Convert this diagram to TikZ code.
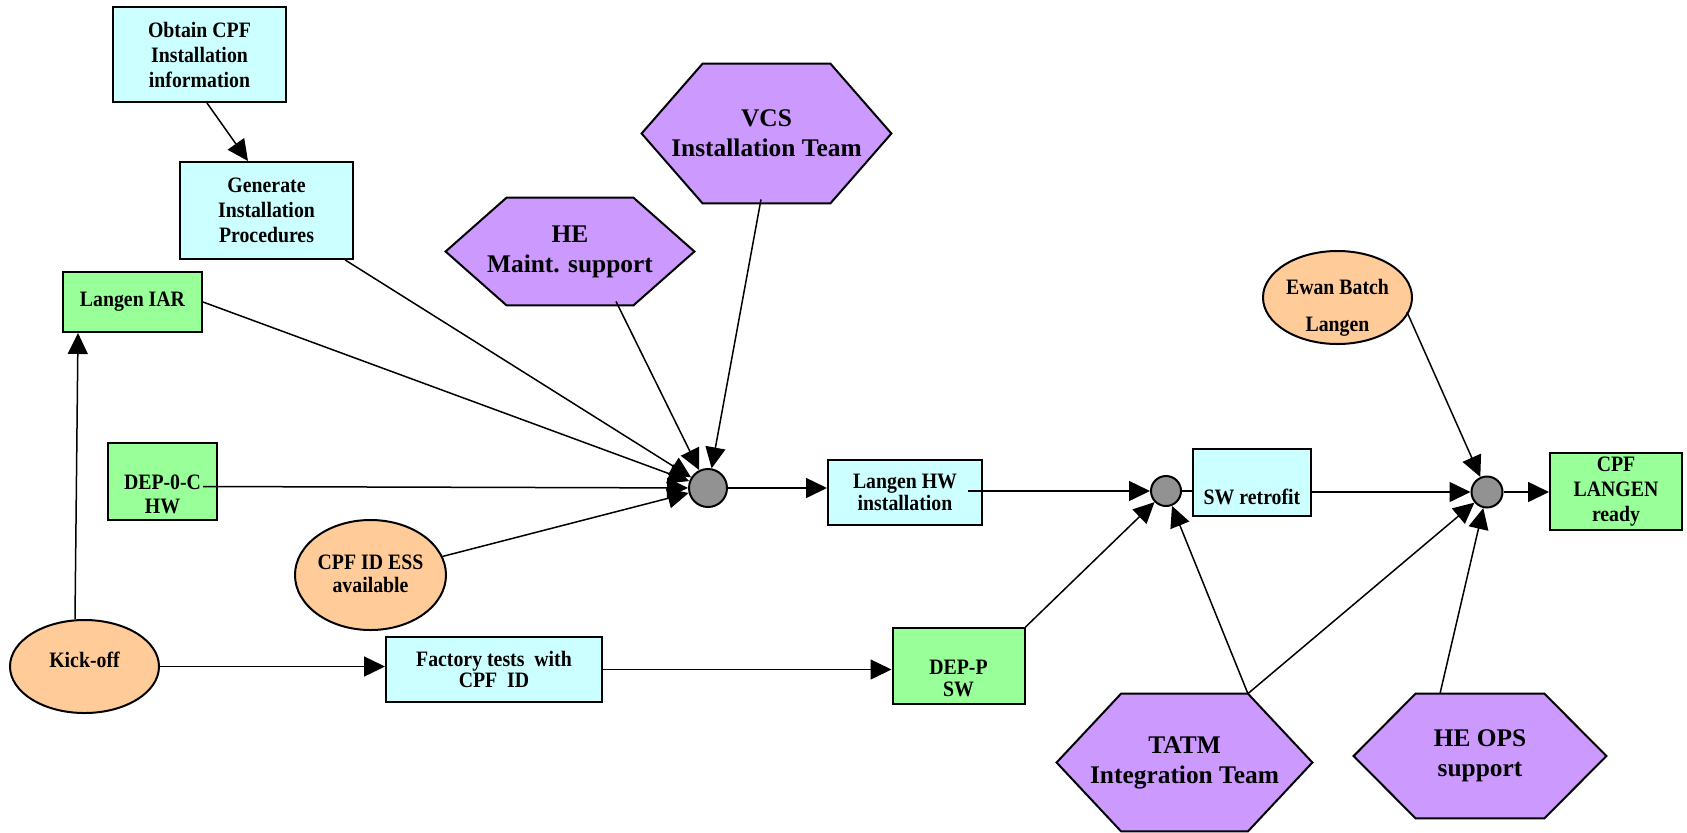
\documentclass[tikz,border=0pt]{standalone}
\usepackage{fontspec}
\setmainfont{Liberation Serif}
\newfontfamily\condf[FakeStretch=0.9]{Liberation Serif}
\usetikzlibrary{shapes.geometric,arrows.meta,calc,backgrounds}
\definecolor{cyanfill}{HTML}{CCFFFF}
\definecolor{greenfill}{HTML}{99FF99}
\definecolor{orangefill}{HTML}{FFCC99}
\definecolor{purplefill}{HTML}{CC99FF}
\definecolor{junctionfill}{HTML}{929292}
\newcommand\smf[1]{\condf\bfseries\fontsize{11}{#1}\selectfont}
\newcommand\bigf{\bfseries\fontsize{12.7}{15}\selectfont}
\newcommand\hexpath[2]{\path[hexline] (#1.west) -- ([xshift=#2]#1.north west) -- ([xshift=-#2]#1.north east) -- (#1.east) -- ([xshift=-#2]#1.south east) -- ([xshift=#2]#1.south west) -- cycle;}
\begin{document}
\begin{tikzpicture}[x=0.5pt,y=-0.5pt,
  conn/.style={line width=0.75pt, -{Triangle[length=10.5pt,width=10pt]}},
  plain/.style={line width=0.75pt},
  box/.style={draw, line width=1pt, rectangle, inner sep=0pt, align=center, font=\smf{12.5}},
  cyanbox/.style={box, fill=cyanfill},
  greenbox/.style={box, fill=greenfill},
  oval/.style={draw, line width=1pt, ellipse, inner sep=0pt, fill=orangefill},
  hexnode/.style={rectangle, inner sep=0pt, align=center, font=\bigf},
  hexline/.style={draw, line width=1pt, fill=purplefill},
  junction/.style={circle, draw, line width=1pt, fill=junctionfill, inner sep=0pt},
  lbl/.style={align=center, font=\smf{12.5}, inner sep=0pt}]
\useasboundingbox (0,0) rectangle (1687,832);

% boxes
\node[cyanbox, minimum width=86.5pt, minimum height=47.5pt] (obtain) at (199.5,54.5) {Obtain CPF\\Installation\\information};
\node[cyanbox, minimum width=86.5pt, minimum height=48.5pt] (gen) at (266.5,210.5) {Generate\\Installation\\Procedures};
\node[greenbox, minimum width=69.5pt, minimum height=30pt] (iar) at (132.5,302) {Langen IAR};
\node[greenbox, minimum width=54.5pt, minimum height=38.5pt,
  label={[lbl,font=\smf{12},yshift=-6.25pt]center:{DEP-0-C\\HW}}] (dep0c) at (162.5,481.5) {};
\node[oval, minimum width=75.5pt, minimum height=55pt,
  label={[lbl,font=\smf{11.5},yshift=0.75pt]center:{CPF ID ESS\\available}}] (ess) at (370.5,575) {};
\node[oval, minimum width=74.5pt, minimum height=46.5pt,
  label={[lbl,yshift=3.5pt]center:Kick-off}] (kick) at (84.5,666.5) {};
\node[cyanbox, minimum width=108pt, minimum height=32.5pt, font=\smf{9.5}] (factory) at (494,669.5) {Factory tests~ with\\CPF~ ID};
\node[greenbox, minimum width=66pt, minimum height=38pt,
  label={[lbl,font=\smf{11},yshift=-6pt]center:{DEP-P\\SW}}] (depp) at (958.5,666) {};
\node[junction, minimum size=19pt] (j1) at (708,488) {};
\node[cyanbox, minimum width=77pt, minimum height=32.5pt, font=\smf{9}] (lhw) at (905,492.5) {Langen HW\\installation};
\node[junction, minimum size=15pt] (j2) at (1166,491) {};
\node[cyanbox, minimum width=59pt, minimum height=33.5pt,
  label={[lbl,yshift=-7.25pt]center:SW retrofit}] (sw) at (1252,482.5) {};
\node[junction, minimum size=15.5pt] (j3) at (1487,492) {};
\node[greenbox, minimum width=66pt, minimum height=38.5pt] (cpf) at (1616,491.5) {CPF\\LANGEN\\ready};
\node[oval, minimum width=74.5pt, minimum height=46.5pt,
  label={[lbl,font=\smf{18.5},yshift=-5pt]center:{Ewan Batch\\Langen}}] (ewan) at (1337.5,297.5) {};

% hexagons
\node[hexnode, minimum width=124.5pt, minimum height=69.5pt] (vcs) at (766.5,133.5) {VCS\\Installation Team};
\node[hexnode, minimum width=124pt, minimum height=53.5pt] (hem) at (570,251.5) {HE\\Maint. support};
\node[hexnode, minimum width=127.5pt, minimum height=68.5pt] (tatm) at (1184.5,762.5) {TATM\\Integration Team};
\node[hexnode, minimum width=126pt, minimum height=62pt] (heops) at (1480,756) {HE OPS\\support};
\begin{pgfonlayer}{background}
\hexpath{vcs}{30.5pt}
\hexpath{hem}{30.5pt}
\hexpath{tatm}{32.25pt}
\hexpath{heops}{31pt}
\end{pgfonlayer}

% connectors
\draw[conn] ($(obtain.south)+(7.5,0)$) -- ($(gen.north)+(-18.5,0)$);
\draw[conn] ($(kick.north)+(-9.5,0)$) -- ($(iar.south)+(-54.5,0)$);
\draw[conn] (kick.east) -- (kick.east -| factory.west);
\draw[conn] (factory.east) -- (factory.east -| depp.west);
\draw[conn] (gen) -- (j1);
\draw[conn] (iar.east) -- (j1);
\draw[conn] ($(dep0c.east)+(-15,5)$) -- (j1);
\draw[conn] (ess) -- (j1);
\draw[conn] ($(hem.south)+(46,-4)$) -- (j1);
\draw[conn] ($(vcs.south)+(-5.5,-4)$) -- (j1);
\draw[conn] (j1.east) -- (j1.east -| lhw.west);
\draw[conn] ($(lhw.east)+(-15,-1.5)$) -- (j2.west);
\draw[plain] (j2.east) -- (j2.east -| sw.west);
\draw[conn] (depp.north east) -- (j2);
\draw[conn] ($(tatm.north east)+(-64.5,0)$) -- (j2);
\draw[conn] ($(tatm.north east)+(-64.5,0)$) -- (j3);
\draw[conn] (sw.east |- j3) -- (j3.west);
\draw[conn] ($(ewan.east)+(-6,14.5)$) -- (j3);
\draw[conn] ($(heops.north)+(-40,0)$) -- (j3);
\draw[conn] (j3.east) -- (j3.east -| cpf.west);
\end{tikzpicture}
\end{document}
